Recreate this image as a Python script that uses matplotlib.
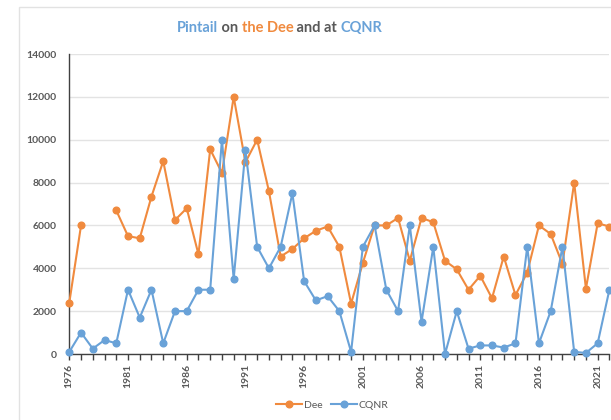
import numpy as np
import matplotlib
matplotlib.use('Agg')
import matplotlib.pyplot as plt
from matplotlib.patches import Rectangle

#================================================================
years = list(range(1976, 2023))

dee = [2400, 6000, np.nan, np.nan, 6700, 5500, 5400, 7350, 9000, 6250,
       6800, 4650, 9550, 8450, 12000, 8950, 10000, 7600, 4550, 4900,
       5400, 5750, 5950, 5000, 2350, 4250, 6000, 6000, 6350, 4350,
       6350, 6150, 4350, 3950, 3000, 3650, 2600, 4550, 2750, 3800,
       6000, 5600, 4200, 8000, 3050, 6100, 5950]

cqnr = [100, 1000, 250, 650, 500, 3000, 1700, 3000, 500, 2000,
        2000, 3000, 3000, 10000, 3500, 9500, 5000, 4000, 5000, 7500,
        3400, 2500, 2700, 2000, 100, 5000, 6000, 3000, 2000, 6000,
        1500, 5000, 0, 2000, 250, 400, 400, 300, 500, 5000,
        500, 2000, 5000, 100, 50, 500, 3000]

yticks = [0, 2000, 4000, 6000, 8000, 10000, 12000, 14000]

ORANGE = '#F08A3E'
BLUE = '#69A2D8'
GREY = '#595959'
#================================================================
W, H = 611, 420
fig = plt.figure(figsize=(W / 100, H / 100), dpi=100)
plt.rcParams['font.family'] = ['Lato', 'DejaVu Sans']

# chart border (cropped on the right and bottom)
fig.patches.append(Rectangle((19 / W, -0.1), 1.2, 1 - 7 / H + 0.1,
                             transform=fig.transFigure, fill=False,
                             edgecolor='#E2E2E2', linewidth=1.0))

ax = fig.add_axes([69.3 / W, 1 - 354 / H, (609.4 - 69.3) / W, 300 / H])

ax.plot(years, dee, color=ORANGE, marker='o', markersize=4.8, linewidth=1.5,
        label='Dee', clip_on=False, zorder=3)
ax.plot(years, cqnr, color=BLUE, marker='o', markersize=4.8, linewidth=1.5,
        label='CQNR', clip_on=False, zorder=3)

ax.set_xlim(1976, 2022)
ax.set_ylim(0, 14000)
ax.set_yticks(yticks)
ax.set_yticklabels([str(v) for v in yticks], fontsize=7.5, fontweight='bold',
                   color=GREY)
ax.set_xticks(years)
ax.set_xticklabels([str(y) if (y - 1976) % 5 == 0 else '' for y in years],
                   rotation=90, fontsize=7.5, fontweight='bold', color=GREY)

ax.grid(axis='y', color='#E3E3E3', linewidth=1.0)
ax.set_axisbelow(True)
for s in ['top', 'right']:
    ax.spines[s].set_visible(False)
for s in ['left', 'bottom']:
    ax.spines[s].set_color('#404040')
    ax.spines[s].set_linewidth(1.0)
ax.tick_params(axis='y', length=0, pad=9)
ax.tick_params(axis='x', length=4, width=1, color='#404040', direction='out', pad=3)

# legend
leg = fig.legend(loc='center', bbox_to_anchor=(332 / W, 1 - 405 / H), ncol=2,
                 frameon=False, fontsize=7.5, handlelength=2.5,
                 columnspacing=0.8, handletextpad=0.2,
                 labelcolor=GREY)

# multi-coloured title
parts = [('Pintail', BLUE), (' on ', GREY), ('the Dee', ORANGE),
         (' and at ', GREY), ('CQNR', BLUE)]
renderer = fig.canvas.get_renderer()
texts = []
for s, c in parts:
    t = fig.text(0, 1 - 28 / H, s, color=c, fontsize=10.5, fontweight='bold',
                 va='center', ha='left')
    texts.append(t)
widths = [t.get_window_extent(renderer).width for t in texts]
x = 279.5 - sum(widths) / 2
for t, w in zip(texts, widths):
    t.set_x(x / W)
    x += w

fig.savefig('out.png', dpi=100)
